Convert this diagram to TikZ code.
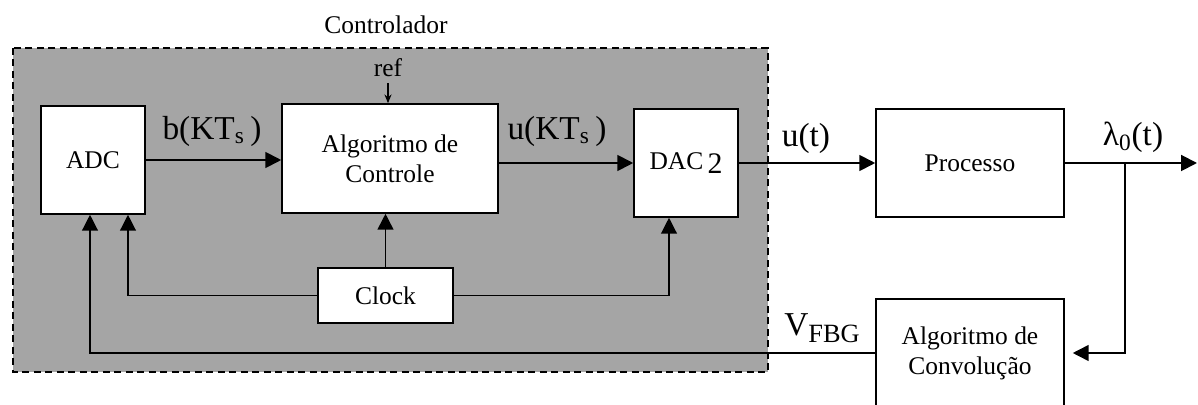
\documentclass[tikz,border=0pt]{standalone}
\usepackage{fontspec}
\setmainfont{Liberation Serif}
\usetikzlibrary{positioning, arrows.meta, calc}
\usepackage{xcolor}
\definecolor{ctrlgray}{HTML}{A5A5A5}

\begin{document}
\begin{tikzpicture}[
      x=0.02cm, y=-0.02cm,
      every node/.style={font=\fontsize{14.5}{17}\selectfont},
      block/.style={draw, line width=0.9pt, fill=white, inner sep=0pt, align=center, minimum width=#1},
      block/.default=2.08cm,
      siglabel/.style={font=\fontsize{19}{22}\selectfont, inner sep=0pt},
      >={Triangle[length=9pt, width=9pt]},
    ]
    \useasboundingbox (0,0) rectangle (1198,405);

    % controller area
    \draw[line width=1.1pt, dash pattern=on 0.14cm off 0.09cm, fill=ctrlgray] (13,48) rectangle (768,372);
    \node (ctrl) at (386,25) {Controlador};

    \node[block, minimum height=2.16cm] (adc) at (93,160) {ADC};
    \node[block=4.32cm, minimum height=2.18cm] (alg) at (390,158.5) {Algoritmo de\\Controle};
    \node[block, minimum height=2.16cm] (dac) at (686,163) {DAC\,\raisebox{-0.4ex}{\fontsize{17}{20}\selectfont 2}};
    \node[block=2.7cm, minimum height=1.1cm] (clock) at (385.5,295.5) {Clock};
    \node[block=3.76cm, minimum height=2.16cm] (proc) at (970,163) {Processo};
    \node[block=3.76cm, minimum height=2.16cm] (conv) at (970,353) {Algoritmo de\\Convolução};

    \node (ref) at (388,68) {ref};
    \coordinate (out) at (1197,163);
    \coordinate (tap) at (1125,163);

    % signal labels
    \node[siglabel] (lb) at (212,131) {b(KT\textsubscript{s}\,)};
    \node[siglabel] (lu) at (557,131) {u(KT\textsubscript{s}\,)};
    \node[siglabel] (lut) at (806,138) {u(t)};
    \node[siglabel] (llam) at (1133,137) {λ\textsubscript{0}(t)};
    \node[siglabel] (lv) at (822,328) {V\raisebox{-0.45ex}{\fontsize{15}{18}\selectfont FBG}};

    % connectors
    \draw[->, line width=1.1pt] (adc.east) -- (adc.east -| alg.west);
    \draw[->, line width=1.1pt] (dac.west -| alg.east) -- (dac.west);
    \draw[->, line width=1.1pt] (dac) -- (proc);
    \draw[->, line width=1.1pt] (proc.east) -- (out);
    \draw[->, line width=0.9pt, shorten >=0.16cm] (tap) |- (conv.east);
    \draw[->, line width=0.7pt] (conv.west) -| ([xshift=-0.06cm]adc.south);
    \draw[->, line width=0.7pt] (clock.west) -| ([xshift=0.7cm]adc.south);
    \draw[->, line width=0.7pt] (clock.east) -| ([xshift=-0.34cm]dac.south);
    \draw[->, line width=0.9pt] (clock.north) -- (clock.north |- alg.south);
    \draw[-{Stealth[length=5pt, width=4pt]}, line width=0.6pt] (ref) -- (ref |- alg.north);
  \end{tikzpicture}
\end{document}
